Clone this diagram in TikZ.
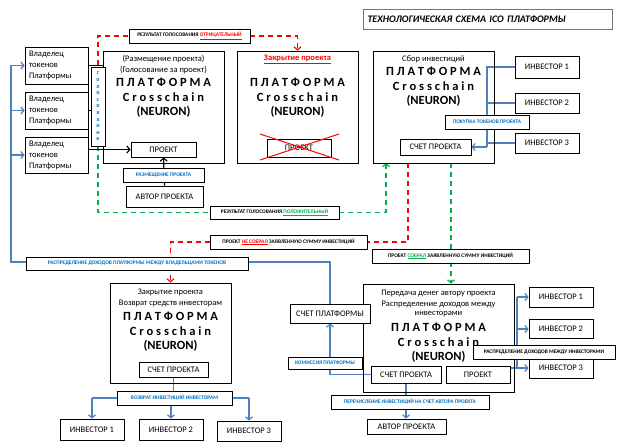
\documentclass[tikz,border=0pt]{standalone}
\usepackage{fontspec}
\setmainfont{Carlito}
\usetikzlibrary{arrows.meta,calc,backgrounds}
\definecolor{lineblue}{RGB}{79,129,189}
\definecolor{txtblue}{RGB}{0,112,192}
\definecolor{okgreen}{RGB}{0,176,80}
\tikzset{wh/.style 2 args={minimum width=#1,minimum height=#2},
         box/.style={draw,fill=white,line width=0.8pt,inner sep=0pt,font=\fontsize{8.5}{10}\selectfont},
         plat/.style={draw,line width=0.8pt,inner sep=0pt},
         lbl/.style={draw,fill=white,line width=0.8pt,inner sep=0pt,text=txtblue,font=\fontsize{5.4}{6}\selectfont\bfseries},
         note/.style={lbl,text=black},
         txt/.style={inner sep=0pt,font=\fontsize{8.5}{10}\selectfont},
         big/.style={inner sep=0pt,font=\fontsize{12.5}{14}\selectfont\bfseries},
         bl/.style={draw=lineblue,line width=1.2pt},
         arr/.style={-{Straight Barb[length=3pt,width=7pt]}},
         reddash/.style={draw=red,line width=1.2pt,dash pattern=on 5pt off 4pt},
         greendash/.style={draw=okgreen,line width=1.2pt,dash pattern=on 5pt off 4pt}
}
\begin{document}
\begin{tikzpicture}[x=1pt,y=-1pt]
% \draw[help lines,step=10] (0,0) grid (618,446);
\useasboundingbox (0,0) rectangle (618,446);

\node[box,draw=black!55,wh={249}{20},text width=240,align=left,font=\fontsize{10}{12}\selectfont\bfseries\itshape] (title) at (487.5,19) {ТЕХНОЛОГИЧЕСКАЯ СХЕМА ICO ПЛАТФОРМЫ};

% token owners
\node[box,wh={63}{37},text width=55,align=left,font=\fontsize{8.5}{11}\selectfont] (own1) at (56.5,65.5) {Владелец\\токенов\\Платформы};
\node[box,wh={63}{37},text width=55,align=left,font=\fontsize{8.5}{11}\selectfont] (own2) at (56.5,110.5) {Владелец\\токенов\\Платформы};
\node[box,wh={63}{36},text width=55,align=left,font=\fontsize{8.5}{11}\selectfont] (own3) at (56.5,155) {Владелец\\токенов\\Платформы};

% platform: placement and voting
\node[plat,wh={121}{112}] (plat1) at (163.5,107) {};
\node[txt] (p1a) at (163.5,59) {(Размещение проекта)};
\node[txt] (p1b) at (163.5,70) {(Голосование за проект)};
\node[big] (p1c) at (163.5,82) {П Л А Т Ф О Р М А};
\node[big] (p1d) at (163.5,97) {C r o s s c h a i n};
\node[big] (p1e) at (163.5,112) {(NEURON)};
\node[box,wh={65}{15}] (proj1) at (163.5,149.5) {ПРОЕКТ};
\node[box,wh={14}{79},align=center,text=txtblue,font=\fontsize{6}{6.6}\selectfont\bfseries] (vote) at (98,106.5) {г\\о\\л\\о\\с\\о\\в\\а\\н\\и\\е};
\node[lbl,wh={81}{14}] (place1) at (163.5,175) {РАЗМЕЩЕНИЕ ПРОЕКТА};
\node[box,wh={77}{21}] (auth1) at (164.5,196.5) {АВТОР ПРОЕКТА};

% platform: project closed
\node[plat,wh={121}{112}] (plat2) at (297.5,107) {};
\node[txt,text=red,font=\fontsize{8.5}{10}\selectfont\bfseries] (p2a) at (297.5,59) {\underline{Закрытие проекта}};
\node[big] (p2c) at (297.5,82) {П Л А Т Ф О Р М А};
\node[big] (p2d) at (297.5,97) {C r o s s c h a i n};
\node[big] (p2e) at (297.5,112) {(NEURON)};
\node[box,wh={64}{18}] (proj2) at (299,148) {ПРОЕКТ};
\draw[red,line width=1pt] ($(proj2.center)+(-39,-14)$) -- ($(proj2.center)+(40,12)$);
\draw[red,line width=1pt] ($(proj2.center)+(-39,12)$) -- ($(proj2.center)+(40,-14)$);

% platform: collecting investments
\node[plat,wh={121}{112}] (plat3) at (433.5,107) {};
\node[txt] (p3a) at (433.5,59) {Сбор инвестиций};
\node[big] (p3c) at (433.5,71) {П Л А Т Ф О Р М А};
\node[big] (p3d) at (433.5,86) {C r o s s c h a i n};
\node[big] (p3e) at (433.5,101) {(NEURON)};
\node[box,wh={71}{16}] (acc3) at (435.5,147) {СЧЕТ ПРОЕКТА};
\node[box,wh={64}{22}] (tinv1) at (547,67) {ИНВЕСТОР 1};
\node[box,wh={64}{20}] (tinv2) at (547,103) {ИНВЕСТОР 2};
\node[box,wh={64}{20}] (tinv3) at (547,143) {ИНВЕСТОР 3};
\node[lbl,wh={84}{14}] (buy) at (487,122) {ПОКУПКА ТОКЕНОВ ПРОЕКТА};

% voting results
\node[note,wh={121}{14}] (neg) at (189.5,36) {РЕЗУЛЬТАТ ГОЛОСОВАНИЯ \textcolor{red}{\underline{ОТРИЦАТЕЛЬНЫЙ}}};
\node[note,wh={129}{13}] (pos) at (274.5,212.5) {РЕЗУЛЬТАТ ГОЛОСОВАНИЯ \textcolor{okgreen}{\underline{ПОЛОЖИТЕЛЬНЫЙ}}};
\node[note,wh={157}{14}] (notcol) at (288.5,242) {ПРОЕКТ \textcolor{red}{\underline{НЕ СОБРАЛ}} ЗАЯВЛЕННУЮ СУММУ ИНВЕСТИЦИЙ};
\node[note,wh={157}{14}] (col) at (450.5,256) {ПРОЕКТ \textcolor{okgreen}{\underline{СОБРАЛ}} ЗАЯВЛЕННУЮ СУММУ ИНВЕСТИЦИЙ};
\node[lbl,wh={222}{13}] (distr) at (137,263.5) {РАСПРЕДЕЛЕНИЕ ДОХОДОВ ПЛАТФОРМЫ МЕЖДУ ВЛАДЕЛЬЦАМИ ТОКЕНОВ};

% platform: refund
\node[plat,wh={121}{100}] (plat4) at (170.5,333) {};
\node[txt] (p4a) at (170.5,292) {Закрытие проекта};
\node[txt] (p4b) at (170.5,303) {Возврат средств инвесторам};
\node[big] (p4c) at (170.5,316) {П Л А Т Ф О Р М А};
\node[big] (p4d) at (170.5,331) {C r o s s c h a i n};
\node[big] (p4e) at (170.5,346) {(NEURON)};
\node[box,wh={69}{15}] (acc4) at (173.5,369.5) {СЧЕТ ПРОЕКТА};
\node[lbl,wh={115}{14}] (ret) at (174.5,398) {ВОЗВРАТ ИНВЕСТИЦИЙ ИНВЕСТОРАМ};
\node[box,wh={64}{21}] (linv1) at (92,429.5) {ИНВЕСТОР 1};
\node[box,wh={64}{21}] (linv2) at (171,429.5) {ИНВЕСТОР 2};
\node[box,wh={64}{20}] (linv3) at (249,431) {ИНВЕСТОР 3};

% platform: transfer to author
\node[plat,wh={151}{108}] (plat5) at (438.5,338) {};
\node[txt] (p5a) at (438.5,293) {Передача денег автору проекта};
\node[txt] (p5b) at (438.5,304) {Распределение доходов между};
\node[txt] (p5c) at (438.5,314) {инвесторами};
\node[big] (p5d) at (438.5,327) {П Л А Т Ф О Р М А};
\node[big] (p5e) at (438.5,342) {C r o s s c h a i n};
\node[big] (p5f) at (438.5,357) {(NEURON)};
\node[box,wh={70}{17}] (acc5) at (406,374.5) {СЧЕТ ПРОЕКТА};
\node[box,wh={64}{17}] (proj5) at (478,374.5) {ПРОЕКТ};
\node[box,wh={80}{19}] (platacc) at (330,313.5) {СЧЕТ ПЛАТФОРМЫ};
\node[lbl,wh={74}{12}] (fee) at (325,363) {КОМИССИЯ ПЛАТФОРМЫ};
\node[lbl,wh={158}{14}] (transf) at (410,402) {ПЕРЕЧИСЛЕНИЕ ИНВЕСТИЦИЙ НА СЧЕТ АВТОРА ПРОЕКТА};
\node[box,wh={79}{15}] (auth5) at (406.5,426.5) {АВТОР ПРОЕКТА};
\node[box,wh={64}{20}] (binv1) at (561,297) {ИНВЕСТОР 1};
\node[box,wh={64}{19}] (binv2) at (561,329) {ИНВЕСТОР 2};
\node[box,wh={64}{20}] (binv3) at (561,368) {ИНВЕСТОР 3};
\node[note,wh={142}{14}] (share) at (544,352) {РАСПРЕДЕЛЕНИЕ ДОХОДОВ МЕЖДУ ИНВЕСТОРАМИ};

\coordinate (g3) at (386,163);
\coordinate (r3) at (408,163);
\coordinate (g5) at (451,163);
\coordinate (bus) at (11,262);
\coordinate (jt) at (487,147);
\coordinate (jb) at (517,297);

\begin{scope}[on background layer]
\fill[white] (0,0) rectangle (618,446);
\draw[reddash] (vote.north |- own1.east) |- (neg.west);
\draw[reddash,arr] (neg.east) -| (plat2.north);
\draw[greendash] (vote.south) |- (pos.west);
\draw[greendash,arr] (pos.east) -| (g3);
\draw[reddash] (r3) |- (notcol.east);
\draw[reddash,arr] (notcol.west) -| (plat4.north);
\draw[greendash,arr] (g5) -- (g5 |- plat5.north);

\draw[line width=1.2pt] (own1.east) -- (own1.east -| plat1.west);
\draw[line width=1.2pt] (own2.east) -- (vote.west |- own2.east);
\draw[line width=1.2pt] (own1.east) -- (own1.east |- proj1.west);
\draw[line width=1.2pt,arr] (own1.east |- proj1.west) -- (proj1.west);
\draw[line width=1.2pt,arr] (auth1.north) -- (proj1.south);

\draw[bl] (platacc.north) |- (bus) -- (bus |- own1.west);
\foreach \o in {own1,own2,own3} \draw[bl,arr] (bus |- \o.west) -- (\o.west);

\draw[bl] (tinv1.west) -| (jt);
\draw[bl] (tinv2.west) -- (tinv2.west -| jt);
\draw[bl] (tinv3.west) -- (tinv3.west -| jt);
\draw[bl,arr] (jt) -- (acc3.east);

\draw[bl] (acc4.south) -- (acc4.south |- ret.center);
\draw[bl] (linv1.north |- ret.center) -- (linv3.north |- ret.center);
\foreach \i in {linv1,linv2,linv3} \draw[bl,arr] (\i.north |- ret.center) -- (\i.north);

\draw[bl,arr] (acc5.west) -| (platacc.south);
\draw[bl,arr] (acc5.south) -- (acc5.south |- auth5.north);
\draw[bl] (proj5.east |- binv3.west) -| (jb);
\foreach \i in {binv1,binv2,binv3} \draw[bl,arr] (jb |- \i.west) -- (\i.west);
\end{scope}
\end{tikzpicture}
\end{document}
